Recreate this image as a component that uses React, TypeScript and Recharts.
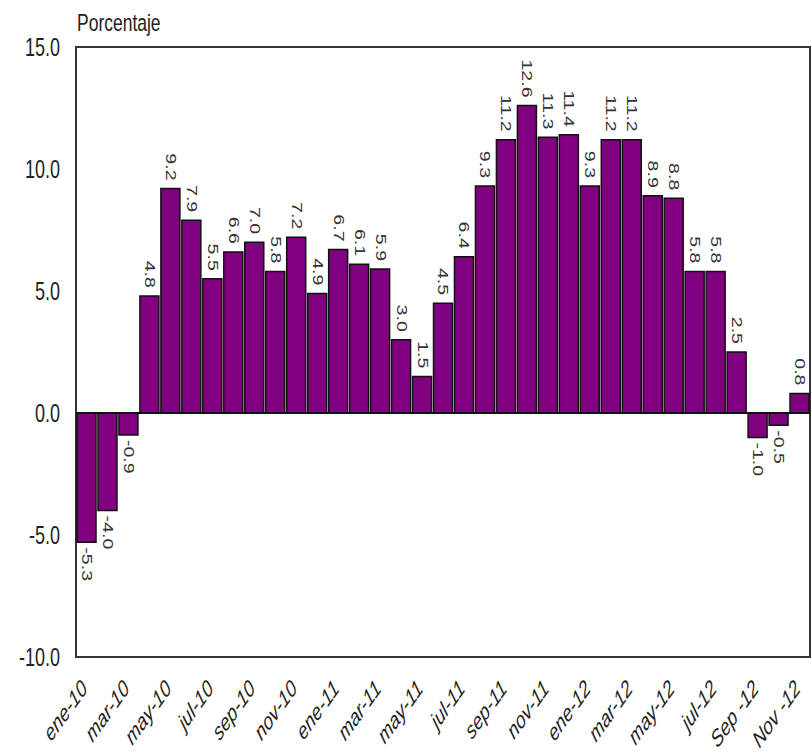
import React from 'react';
import {
  BarChart,
  Bar,
  XAxis,
  YAxis,
  ReferenceLine,
  ReferenceArea,
  LabelList,
} from 'recharts';

// Monthly categories, ene-10 .. Nov-12 (every other one is labelled on the axis)
const months: string[] = [
  'ene-10', 'feb-10', 'mar-10', 'abr-10', 'may-10', 'jun-10',
  'jul-10', 'ago-10', 'sep-10', 'oct-10', 'nov-10', 'dic-10',
  'ene-11', 'feb-11', 'mar-11', 'abr-11', 'may-11', 'jun-11',
  'jul-11', 'ago-11', 'sep-11', 'oct-11', 'nov-11', 'dic-11',
  'ene-12', 'feb-12', 'mar-12', 'abr-12', 'may-12', 'jun-12',
  'jul-12', 'ago-12', 'Sep -12', 'oct-12', 'Nov -12',
];

// Annual variation, percent
const values: number[] = [
  -5.3, -4.0, -0.9, 4.8, 9.2, 7.9, 5.5, 6.6, 7.0, 5.8, 7.2, 4.9,
  6.7, 6.1, 5.9, 3.0, 1.5, 4.5, 6.4, 9.3, 11.2, 12.6, 11.3, 11.4,
  9.3, 11.2, 11.2, 8.9, 8.8, 5.8, 5.8, 2.5, -1.0, -0.5, 0.8,
];

const yTicks: number[] = [-10, -5, 0, 5, 10, 15];
const yUnit = 'Porcentaje';

const data = months.map((m, i) => ({ mes: m, valor: values[i] }));

const FONT = '"Liberation Sans", Arial, Helvetica, sans-serif';
const STRETCH = 1.4;
const BAR_COLOR = '#800080';

const XTick = (props: any) => {
  const { x, y, payload } = props;
  return (
    <g transform={`translate(${x + 2},${y + 33}) scale(1,${STRETCH}) rotate(-45)`}>
      <text
        x={0}
        y={0}
        textAnchor="end"
        fontStyle="italic"
        fontSize={17}
        fontFamily={FONT}
        fill="#222"
      >
        {payload.value}
      </text>
    </g>
  );
};

const YTick = (props: any) => {
  const { x, y, payload } = props;
  return (
    <g transform={`translate(${x},${y}) scale(1,${STRETCH})`}>
      <text
        x={0}
        y={0}
        dy="0.36em"
        textAnchor="end"
        fontSize={18}
        fontFamily={FONT}
        fill="#222"
      >
        {Number(payload.value).toFixed(1)}
      </text>
    </g>
  );
};

const BarValue = (props: any) => {
  const { x, y, width, height, value } = props;
  const cx = Number(x) + Number(width) / 2;
  const top = Math.min(Number(y), Number(y) + Number(height));
  const bottom = Math.max(Number(y), Number(y) + Number(height));
  const positive = Number(value) >= 0;
  const ay = positive ? top - 8 : bottom + 5;
  return (
    <g transform={`translate(${cx},${ay}) scale(1,${STRETCH}) rotate(90)`}>
      <text
        x={0}
        y={0}
        dominantBaseline="central"
        textAnchor={positive ? 'end' : 'start'}
        fontSize={14}
        fontFamily={FONT}
        fill="#333"
      >
        {Number(value).toFixed(1)}
      </text>
    </g>
  );
};

export default function App() {
  return (
    <div style={{ position: 'absolute', left: 0, top: 0, background: '#fff' }}>
      <BarChart
        width={812}
        height={754}
        data={data}
        margin={{ top: 47, right: 2, left: 0, bottom: 0 }}
        barCategoryGap={1}
      >
        <text
          transform={`translate(77,31) scale(1,${STRETCH})`}
          fontSize={17.5}
          fontFamily={FONT}
          fill="#222"
        >
          {yUnit}
        </text>
        <ReferenceArea
          y1={-10}
          y2={15}
          fill="none"
          stroke="#333"
          strokeWidth={2}
          ifOverflow="visible"
        />
        <XAxis
          dataKey="mes"
          interval={1}
          height={97}
          axisLine={false}
          tickLine={false}
          tickSize={0}
          tickMargin={0}
          tick={<XTick />}
        />
        <YAxis
          width={76}
          domain={[-10, 15]}
          ticks={yTicks}
          axisLine={false}
          tickLine={false}
          tickSize={0}
          tickMargin={16}
          tick={<YTick />}
        />
        <ReferenceLine y={0} stroke="#111" strokeWidth={2} />
        <Bar
          dataKey="valor"
          fill={BAR_COLOR}
          stroke="#111"
          strokeWidth={1.5}
          isAnimationActive={false}
        >
          <LabelList dataKey="valor" content={<BarValue />} />
        </Bar>
      </BarChart>
    </div>
  );
}
